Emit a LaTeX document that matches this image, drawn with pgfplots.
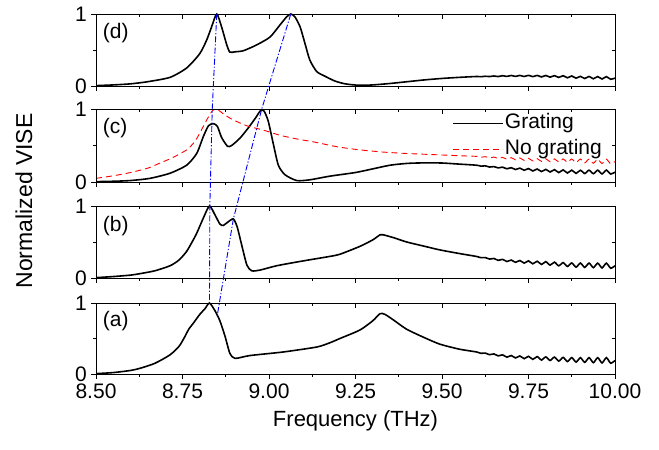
\documentclass[border=0pt]{standalone}
\usepackage{fontspec}
\setmainfont{Liberation Sans}
\usepackage{pgfplots}
\pgfplotsset{compat=1.18}

\pgfplotsset{
  panel/.style={
    scale only axis, width=519pt, height=72pt,
    xmin=8.5, xmax=10, ymin=0, ymax=1,
    xtick={8.5,8.75,9,9.25,9.5,9.75,10},
    minor x tick num=1,
    ytick={0,1}, minor ytick={0.5},
    xticklabels={}, yticklabels={0,1},
    axis line style={line width=0.9pt, black},
    every tick/.style={line width=0.8pt, black},
    major tick length=5pt, minor tick length=3pt,
    every tick label/.append style={font=\fontsize{21}{23}\selectfont},
    yticklabel style={inner xsep=4pt, inner ysep=0pt},
    xticklabel style={inner xsep=2pt, inner ysep=5pt},
    anchor=south west,
  },
  lower/.style={panel, tick align=outside, xtick pos=left, ytick pos=left},
  upper/.style={panel, tick align=inside, xtick pos=right, ytick pos=right, yticklabels={}, xticklabels={}},
  grat/.style={black, line width=1.6pt, smooth, tension=0.4},
  nogr/.style={red, line width=0.9pt, dash pattern=on 6pt off 4pt},
}

\begin{document}
\begin{tikzpicture}[font=\fontsize{21}{24}\selectfont]
\useasboundingbox (0,0) rectangle (659pt,450pt);

% ---------------- panel (a)
\begin{axis}[lower, at={(96pt,76pt)}, height=71pt,
  xticklabels={8.50,8.75,9.00,9.25,9.50,9.75,10.00}]
\addplot[grat] coordinates {
(8.50,0.005)(8.55,0.02)(8.60,0.05)(8.627,0.08)(8.67,0.15)(8.714,0.27)(8.74,0.39)(8.755,0.51)(8.768,0.63)(8.782,0.72)(8.80,0.84)(8.815,0.92)(8.828,1.0)(8.844,0.89)(8.858,0.75)(8.873,0.53)(8.887,0.29)(8.902,0.22)(8.945,0.26)(9.041,0.31)(9.138,0.38)(9.176,0.44)(9.205,0.50)(9.263,0.62)(9.30,0.75)(9.321,0.85)(9.335,0.84)(9.36,0.76)(9.398,0.63)(9.45,0.51)(9.494,0.42)(9.55,0.35)
(9.6000,0.310)(9.6125,0.291)(9.625,0.295)(9.6375,0.272)(9.65,0.283)(9.6625,0.255)(9.675,0.270)(9.6875,0.237)(9.70,0.260)(9.7125,0.226)(9.725,0.254)(9.7375,0.216)(9.75,0.249)(9.7625,0.206)(9.775,0.245)(9.7875,0.197)(9.80,0.241)(9.8125,0.190)(9.825,0.238)(9.8375,0.182)(9.85,0.234)(9.8625,0.175)(9.875,0.231)(9.8875,0.168)(9.90,0.230)(9.9125,0.164)(9.925,0.230)(9.9375,0.160)(9.95,0.230)(9.9625,0.156)(9.975,0.230)(9.9875,0.152)(10.0,0.19)
};
\node[anchor=west, inner sep=0pt] at (rel axis cs:0.013,0.74) {(a)};
\coordinate (a1) at (axis cs:8.828,1);
\coordinate (a2) at (axis cs:8.850,0.81);
\end{axis}
\begin{axis}[upper, at={(96pt,76pt)}, height=71pt]\end{axis}

% ---------------- panel (b)
\begin{axis}[lower, at={(96pt,172pt)}, height=72pt]
\addplot[grat] coordinates {
(8.50,0.005)(8.55,0.02)(8.60,0.04)(8.627,0.06)(8.67,0.10)(8.714,0.17)(8.74,0.25)(8.762,0.37)(8.78,0.52)(8.791,0.62)(8.81,0.83)(8.828,1.0)(8.844,0.875)(8.858,0.75)(8.868,0.73)(8.882,0.78)(8.897,0.82)(8.908,0.71)(8.921,0.46)(8.936,0.18)(8.95,0.10)(8.974,0.11)(9.022,0.17)(9.09,0.23)(9.176,0.30)(9.205,0.33)(9.263,0.44)(9.30,0.53)(9.321,0.60)(9.33,0.60)(9.36,0.56)(9.398,0.50)(9.45,0.44)(9.494,0.39)(9.55,0.34)
(9.6000,0.299)(9.6125,0.282)(9.625,0.284)(9.6375,0.263)(9.65,0.271)(9.6625,0.245)(9.675,0.259)(9.6875,0.229)(9.70,0.249)(9.7125,0.218)(9.725,0.243)(9.7375,0.207)(9.75,0.238)(9.7625,0.197)(9.775,0.233)(9.7875,0.188)(9.80,0.227)(9.8125,0.179)(9.825,0.220)(9.8375,0.169)(9.85,0.214)(9.8625,0.160)(9.875,0.209)(9.8875,0.151)(9.90,0.207)(9.9125,0.147)(9.925,0.207)(9.9375,0.144)(9.95,0.206)(9.9625,0.140)(9.975,0.206)(9.9875,0.136)(10.0,0.17)
};
\node[anchor=west, inner sep=0pt] at (rel axis cs:0.013,0.72) {(b)};
\coordinate (b1) at (axis cs:8.829,1);
\coordinate (b2) at (axis cs:8.897,0.82);
\end{axis}
\begin{axis}[upper, at={(96pt,172pt)}, height=72pt]\end{axis}

% ---------------- panel (c)
\begin{axis}[lower, at={(96pt,268pt)}, height=73pt,
  legend style={at={(rel axis cs:0.977,0.955)}, anchor=north east, draw=none, fill=none,
    inner sep=0pt, row sep=4pt,
    nodes={inner sep=1pt, text height=15pt, text depth=5pt, font=\fontsize{21}{23}\selectfont}},
  legend cell align=left]
\addplot[grat, forget plot] coordinates {
(8.50,0.005)(8.55,0.01)(8.60,0.02)(8.656,0.05)(8.714,0.12)(8.762,0.23)(8.791,0.39)(8.81,0.62)(8.825,0.77)(8.839,0.80)(8.851,0.76)(8.863,0.61)(8.880,0.49)(8.892,0.50)(8.916,0.60)(8.940,0.74)(8.960,0.87)(8.976,0.98)(8.986,0.97)(8.998,0.83)(9.013,0.51)(9.027,0.23)(9.046,0.10)(9.08,0.02)(9.118,0.03)(9.176,0.08)(9.25,0.13)(9.30,0.18)(9.35,0.23)(9.40,0.255)(9.45,0.262)(9.50,0.26)(9.55,0.245)
(9.6000,0.230)(9.6125,0.217)(9.625,0.221)(9.6375,0.205)(9.65,0.211)(9.6625,0.193)(9.675,0.203)(9.6875,0.181)(9.70,0.196)(9.7125,0.171)(9.725,0.190)(9.7375,0.161)(9.75,0.184)(9.7625,0.151)(9.775,0.178)(9.7875,0.143)(9.80,0.173)(9.8125,0.137)(9.825,0.169)(9.8375,0.129)(9.85,0.166)(9.8625,0.123)(9.875,0.162)(9.8875,0.118)(9.90,0.161)(9.9125,0.116)(9.925,0.162)(9.9375,0.114)(9.95,0.162)(9.9625,0.111)(9.975,0.163)(9.9875,0.109)(10.0,0.135)
};
\addplot[nogr, smooth, tension=0.4, forget plot] coordinates {
(8.50,0.05)(8.55,0.085)(8.60,0.13)(8.65,0.19)(8.685,0.26)(8.72,0.33)(8.762,0.44)(8.785,0.55)(8.80,0.67)(8.82,0.85)(8.837,0.98)(8.849,1.0)(8.858,0.97)(8.875,0.91)(8.897,0.85)(8.936,0.77)(8.984,0.71)(9.032,0.64)(9.08,0.59)(9.128,0.55)(9.2,0.48)(9.263,0.44)(9.33,0.41)(9.4,0.39)(9.5,0.37)(9.55,0.36)
(9.6000,0.351)(9.6125,0.339)(9.625,0.347)(9.6375,0.330)(9.65,0.342)(9.6625,0.322)(9.675,0.337)(9.6875,0.313)(9.70,0.333)(9.7125,0.304)(9.725,0.329)(9.7375,0.296)(9.75,0.324)(9.7625,0.288)(9.775,0.320)(9.7875,0.282)(9.80,0.318)(9.8125,0.277)(9.825,0.317)(9.8375,0.273)(9.85,0.316)(9.8625,0.270)(9.875,0.315)(9.8875,0.265)(9.90,0.315)(9.9125,0.262)(9.925,0.314)(9.9375,0.257)(9.95,0.313)(9.9625,0.253)(9.975,0.312)(9.9875,0.250)(10.0,0.28)
};
\addlegendimage{legend image code/.code={\draw[black, line width=1.6pt] (0pt,0pt) -- (50pt,0pt);}}
\addlegendentry{Grating}
\addlegendimage{legend image code/.code={\draw[red, line width=0.9pt, dash pattern=on 6pt off 4pt] (0pt,0pt) -- (50pt,0pt);}}
\addlegendentry{No grating}
\node[anchor=west, inner sep=0pt] at (rel axis cs:0.013,0.74) {(c)};
\coordinate (c1) at (axis cs:8.836,1);
\coordinate (c2) at (axis cs:8.979,1);
\end{axis}
\begin{axis}[upper, at={(96pt,268pt)}, height=73pt]\end{axis}

% ---------------- panel (d)
\begin{axis}[lower, at={(96pt,364pt)}, height=72pt]
\addplot[grat] coordinates {
(8.50,0.005)(8.55,0.015)(8.60,0.03)(8.65,0.06)(8.714,0.12)(8.762,0.25)(8.80,0.45)(8.82,0.64)(8.834,0.82)(8.849,1.0)(8.863,0.82)(8.878,0.57)(8.887,0.47)(8.902,0.475)(8.926,0.49)(8.964,0.57)(9.003,0.68)(9.032,0.85)(9.051,0.96)(9.063,1.0)(9.075,0.96)(9.09,0.82)(9.104,0.59)(9.118,0.36)(9.138,0.20)(9.16,0.14)(9.19,0.07)(9.22,0.03)(9.26,0.01)(9.30,0.015)(9.35,0.035)(9.40,0.06)(9.45,0.085)(9.50,0.105)(9.55,0.12)
(9.6000,0.132)(9.6125,0.129)(9.625,0.135)(9.6375,0.131)(9.65,0.139)(9.6625,0.131)(9.675,0.143)(9.6875,0.133)(9.70,0.146)(9.7125,0.133)(9.725,0.147)(9.7375,0.132)(9.75,0.148)(9.7625,0.130)(9.775,0.147)(9.7875,0.126)(9.80,0.146)(9.8125,0.123)(9.825,0.144)(9.8375,0.119)(9.85,0.143)(9.8625,0.114)(9.875,0.139)(9.8875,0.109)(9.90,0.134)(9.9125,0.104)(9.925,0.133)(9.9375,0.100)(9.95,0.131)(9.9625,0.097)(9.975,0.130)(9.9875,0.093)(10.0,0.11)
};
\node[anchor=west, inner sep=0pt] at (rel axis cs:0.013,0.74) {(d)};
\coordinate (d1) at (axis cs:8.849,1);
\coordinate (d2) at (axis cs:9.063,1);
\end{axis}
\begin{axis}[upper, at={(96pt,364pt)}, height=72pt]\end{axis}

% connecting peak-tracking lines
\draw[blue, line width=0.9pt, dash pattern=on 6pt off 2pt on 1.2pt off 2pt] (d1) -- (c1) -- (b1) -- (a1);
\draw[blue, line width=0.9pt, dash pattern=on 6pt off 2pt on 1.2pt off 2pt] (d2) -- (c2) -- (b2) -- (a2);

% axis titles
\node[anchor=base, font=\fontsize{22}{24}\selectfont] at (355.5pt,23pt) {Frequency (THz)};
\node[rotate=90, anchor=base west, font=\fontsize{23}{25}\selectfont] at (32pt,158pt) {Normalized VISE};
\end{tikzpicture}
\end{document}
